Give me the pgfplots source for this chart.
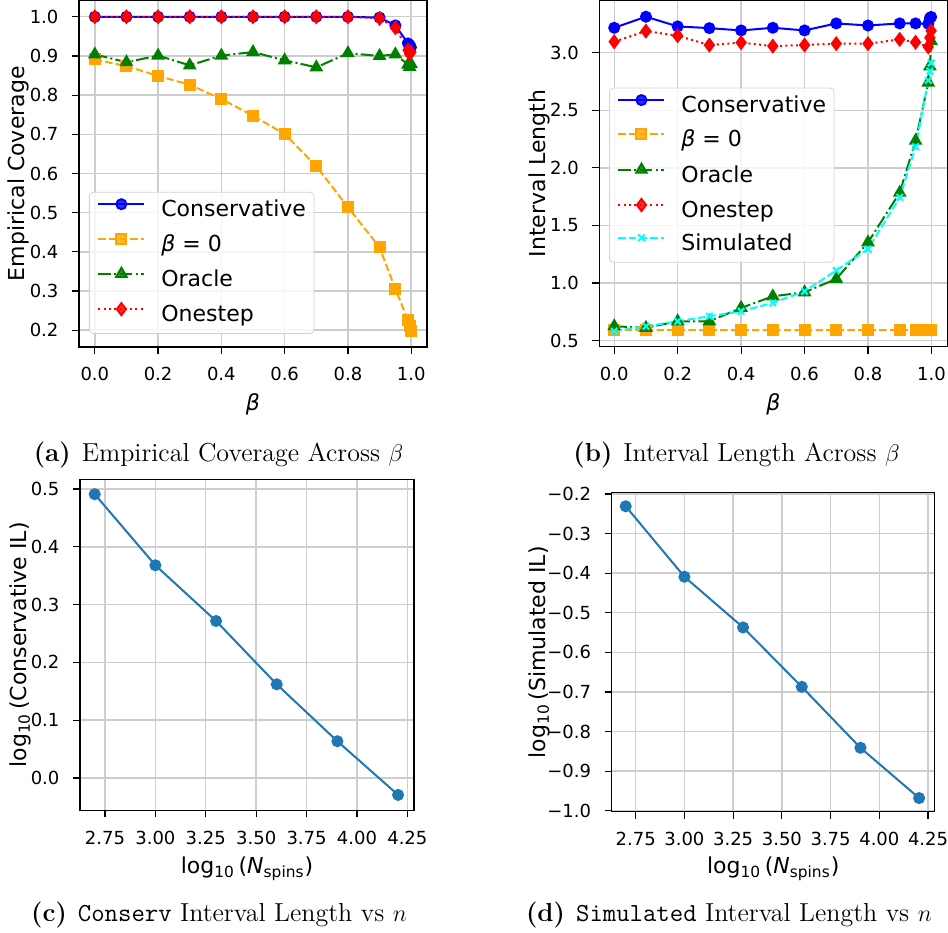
\documentclass[border=0pt]{standalone}
\usepackage{fontspec}
\usepackage{pgfplots}
\pgfplotsset{compat=1.18}
\newfontfamily\dv{DejaVu Sans}

\definecolor{mplblue}{RGB}{0,0,255}
\definecolor{mplorange}{RGB}{255,165,0}
\definecolor{mplgreen}{RGB}{0,128,0}
\definecolor{mplred}{RGB}{255,0,0}
\definecolor{mplcyan}{RGB}{0,255,255}
\definecolor{tabblue}{HTML}{1F77B4}
\definecolor{gridgray}{RGB}{205,205,205}

\pgfplotsset{
  panel/.style={
    scale only axis,
    axis line style={line width=0.6pt},
    tick align=outside,
    xtick pos=bottom, ytick pos=left,
    major tick length=3.5pt,
    every tick/.style={black, line width=0.6pt},
    grid=major,
    major grid style={gridgray, line width=0.7pt},
    tick label style={font=\dv\fontsize{9}{10}\selectfont},
    yticklabel style={inner sep=0pt, anchor=east, xshift=-6.6pt},
    xticklabel style={inner sep=0pt, anchor=north, yshift=-6.5pt},
    label style={font=\dv\fontsize{11}{13}\selectfont},
    xlabel style={anchor=center},
    ylabel style={anchor=center},
    legend cell align=left,
    legend style={font=\dv\fontsize{11}{13}\selectfont, draw=gray!35, fill=white,
      fill opacity=0.8, text opacity=1, rounded corners=2pt,
      inner xsep=4pt, inner ysep=3.5pt, row sep=5.9pt, column sep=8pt,
      nodes={inner sep=0pt, text height=8pt, text depth=2.5pt}},
    legend image code/.code={\draw[mark repeat=2,mark phase=2,#1]
      plot coordinates {(0pt,3.5pt) (11.5pt,3.5pt) (23pt,3.5pt)};},
  },
  cons/.style={mplblue, line width=1pt, mark=*, mark size=2.5pt},
  bzero/.style={mplorange, line width=1pt, dash pattern=on 3.7pt off 1.6pt,
    mark=square*, mark size=2.5pt, mark options={solid}},
  orac/.style={mplgreen, line width=1pt, dash pattern=on 6.4pt off 1.6pt on 1pt off 1.6pt,
    mark=triangle*, mark size=3pt, mark options={solid}},
  ones/.style={mplred, line width=1pt, dash pattern=on 1pt off 1.65pt,
    mark=diamond*, mark size=3pt, mark options={solid}},
  simu/.style={mplcyan, line width=1pt, dash pattern=on 3.7pt off 1.6pt,
    mark=x, mark size=2.3pt, mark options={solid}},
  nline/.style={tabblue, line width=1pt, mark=*, mark size=2.5pt},
}

% coverage across beta
\pgfplotstableread{
beta  cons   bzero  orac   ones
0.0   1.000  0.891  0.904  1.000
0.1   1.000  0.874  0.884  1.000
0.2   1.000  0.849  0.901  1.000
0.3   1.000  0.8265 0.876  1.000
0.4   1.000  0.790  0.901  1.000
0.5   1.000  0.7475 0.910  1.000
0.6   1.000  0.7005 0.889  1.000
0.7   1.000  0.619  0.871  1.000
0.8   1.000  0.514  0.907  1.000
0.9   0.998  0.4115 0.900  0.996
0.95  0.978  0.305  0.904  0.972
0.99  0.932  0.225  0.878  0.915
0.995 0.928  0.210  0.872  0.905
0.999 0.922  0.198  0.880  0.910
}\covtab

% interval length across beta
\pgfplotstableread{
beta  cons   bzero  orac   ones   simu
0.0   3.216  0.592  0.624  3.095  0.581
0.1   3.312  0.590  0.610  3.187  0.624
0.2   3.228  0.590  0.667  3.147  0.667
0.3   3.213  0.590  0.667  3.066  0.711
0.4   3.193  0.590  0.783  3.087  0.754
0.5   3.216  0.590  0.884  3.057  0.827
0.6   3.193  0.590  0.919  3.066  0.927
0.7   3.254  0.590  1.035  3.078  1.109
0.8   3.236  0.590  1.352  3.078  1.294
0.9   3.254  0.590  1.784  3.115  1.744
0.95  3.254  0.590  2.235  3.090  2.183
0.99  3.250  0.590  2.740  3.050  2.760
0.995 3.300  0.590  2.880  3.130  2.840
0.999 3.310  0.590  3.100  3.190  2.910
}\lentab

\begin{document}
\begin{tikzpicture}

% (a)
\begin{axis}[panel, at={(39.5pt,-0.25pt)}, anchor=north west,
  width=174pt, height=173.25pt,
  xmin=-0.05, xmax=1.05, ymin=0.157, ymax=1.0416,
  xtick={0,0.2,0.4,0.6,0.8,1}, xticklabels={0.0,0.2,0.4,0.6,0.8,1.0},
  ytick={0.2,0.3,0.4,0.5,0.6,0.7,0.8,0.9,1.0},
  yticklabels={0.2,0.3,0.4,0.5,0.6,0.7,0.8,0.9,1.0},
  xlabel={\itshape β}, ylabel={Empirical Coverage},
  xlabel style={at={(axis description cs:0.5,-0.166)}},
  ylabel style={at={(axis description cs:-0.1744,0.5)}},
  legend style={at={(0.0287,0.0375)}, anchor=south west},
]
\addplot[cons] table[x=beta,y=cons] {\covtab};
\addplot[bzero] table[x=beta,y=bzero] {\covtab};
\addplot[orac] table[x=beta,y=orac] {\covtab};
\addplot[ones] table[x=beta,y=ones] {\covtab};
\legend{Conservative,{\itshape β} = 0,Oracle,Onestep}
\end{axis}

% (b)
\begin{axis}[panel, at={(299.65pt,-0.25pt)}, anchor=north west,
  width=174pt, height=173pt,
  xmin=-0.047, xmax=1.05, ymin=0.448, ymax=3.453,
  xtick={0,0.2,0.4,0.6,0.8,1}, xticklabels={0.0,0.2,0.4,0.6,0.8,1.0},
  ytick={0.5,1.0,1.5,2.0,2.5,3.0},
  yticklabels={0.5,1.0,1.5,2.0,2.5,3.0},
  xlabel={\itshape β}, ylabel={Interval Length},
  xlabel style={at={(axis description cs:0.5,-0.166)}},
  ylabel style={at={(axis description cs:-0.1733,0.5)}},
  legend style={at={(0.028,0.748)}, anchor=north west},
]
\addplot[cons] table[x=beta,y=cons] {\lentab};
\addplot[bzero] table[x=beta,y=bzero] {\lentab};
\addplot[orac] table[x=beta,y=orac] {\lentab};
\addplot[ones] table[x=beta,y=ones] {\lentab};
\addplot[simu] table[x=beta,y=simu] {\lentab};
\legend{Conservative,{\itshape β} = 0,Oracle,Onestep,Simulated}
\end{axis}

% (c)
\begin{axis}[panel, at={(40pt,-239.65pt)}, anchor=north west,
  width=167pt, height=165.5pt,
  xmin=2.626, xmax=4.283, ymin=-0.056, ymax=0.5168,
  xtick={2.75,3,3.25,3.5,3.75,4,4.25},
  xticklabels={2.75,3.00,3.25,3.50,3.75,4.00,4.25},
  ytick={0,0.1,0.2,0.3,0.4,0.5}, yticklabels={0.0,0.1,0.2,0.3,0.4,0.5},
  xlabel={log\textsubscript{10}\,({\itshape N}\textsubscript{spins})},
  ylabel={log\textsubscript{10}\,(Conservative IL)},
  xlabel style={at={(axis description cs:0.5,-0.176)}},
  ylabel style={at={(axis description cs:-0.1796,0.5)}},
]
\addplot[nline] coordinates {
  (2.699,0.491) (3.000,0.368) (3.301,0.2716) (3.602,0.162) (3.903,0.0635) (4.204,-0.0294)
};
\end{axis}

% (d)
\begin{axis}[panel, at={(305.85pt,-246.35pt)}, anchor=north west,
  width=161.5pt, height=159.5pt,
  xmin=2.627, xmax=4.284, ymin=-1.0025, ymax=-0.1967,
  xtick={2.75,3,3.25,3.5,3.75,4,4.25},
  xticklabels={2.75,3.00,3.25,3.50,3.75,4.00,4.25},
  ytick={-1,-0.9,-0.8,-0.7,-0.6,-0.5,-0.4,-0.3,-0.2},
  yticklabels={−1.0,−0.9,−0.8,−0.7,−0.6,−0.5,−0.4,−0.3,−0.2},
  xlabel={log\textsubscript{10}\,({\itshape N}\textsubscript{spins})},
  ylabel={log\textsubscript{10}\,(Simulated IL)},
  xlabel style={at={(axis description cs:0.5,-0.178)}},
  ylabel style={at={(axis description cs:-0.2251,0.5)}},
]
\addplot[nline] coordinates {
  (2.699,-0.231) (3.000,-0.409) (3.301,-0.537) (3.602,-0.687) (3.903,-0.841) (4.204,-0.968)
};
\end{axis}

% captions
\begin{scope}[every node/.style={font=\fontsize{13}{15}\selectfont, inner sep=0pt}]
\node[anchor=base] at (109.25pt,-230.5pt) {\textbf{(a)}\hspace{5.5pt}Empirical Coverage Across $\beta$};
\node[anchor=base] at (368.25pt,-230.5pt) {\textbf{(b)}\hspace{5.5pt}Interval Length Across $\beta$};
\node[anchor=base] at (109.5pt,-460.8pt) {\textbf{(c)}\hspace{5.5pt}\texttt{Conserv} Interval Length vs $n$};
\node[anchor=base west] at (262.85pt,-460.8pt) {\textbf{(d)}\hspace{5.5pt}\texttt{Simulated} Interval Length vs $n$};
\end{scope}

\pgfresetboundingbox
\path[use as bounding box] (0pt,0pt) rectangle (474pt,-466pt);
\end{tikzpicture}
\end{document}
